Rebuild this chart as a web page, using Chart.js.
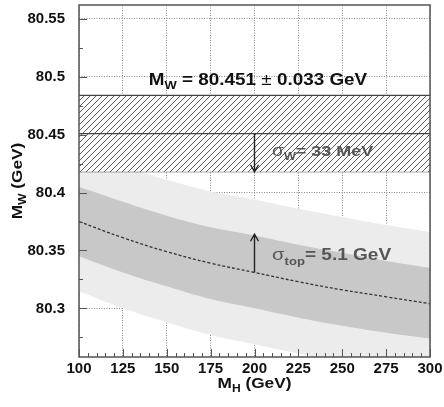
<!DOCTYPE html>
<html>
<head>
<meta charset="utf-8">
<script src="https://cdn.jsdelivr.net/npm/chart.js@4"></script>
<style>
    html, body { margin: 0; padding: 0; background: #fff; }
</style>
</head>
<body>
<canvas id="grafico" width="444" height="407"></canvas>
<script>
// valores
const massaHiggs = [100, 125, 150, 175, 200, 225, 250, 275, 300];
const centro     = [80.375, 80.361, 80.349, 80.339, 80.331, 80.323, 80.316, 80.310, 80.304];
const escuroSup  = [80.405, 80.392, 80.380, 80.370, 80.363, 80.355, 80.348, 80.341, 80.335];
const escuroInf  = [80.345, 80.331, 80.319, 80.308, 80.300, 80.292, 80.285, 80.279, 80.274];
const claroSup   = [80.436, 80.423, 80.411, 80.401, 80.394, 80.386, 80.379, 80.372, 80.366];
const claroInf   = [80.315, 80.300, 80.288, 80.277, 80.269, 80.261, 80.254, 80.248, 80.243];

const mwValor = 80.451;
const mwErro = 0.033;
const faixaX = [100, 300];

const ticksX = [100, 125, 150, 175, 200, 225, 250, 275, 300];
const ticksY = [80.3, 80.35, 80.4, 80.45, 80.5, 80.55];
const rotulosY = ["80.3", "80.35", "80.4", "80.45", "80.5", "80.55"];

const FONTE = "'Liberation Sans', Arial, sans-serif";

function pontos(xs, ys) {
    return xs.map((x, i) => ({ x: x, y: ys[i] }));
}

function criaHachura() {
    const c = document.createElement("canvas");
    c.width = 6; c.height = 6;
    const g = c.getContext("2d");
    g.fillStyle = "#fff";
    g.fillRect(0, 0, 6, 6);
    g.strokeStyle = "#4a4a4a";
    g.lineWidth = 0.9;
    g.beginPath();
    g.moveTo(-1, 7); g.lineTo(7, -1);
    g.moveTo(-1, 1); g.lineTo(1, -1);
    g.moveTo(5, 7); g.lineTo(7, 5);
    g.stroke();
    return g.createPattern(c, "repeat");
}

// escreve texto com subscritos; pecas = [texto, tamanho, peso, deslocY]
function escreve(ctx, x, y, pecas, cor, alinha, esticar) {
    ctx.save();
    ctx.fillStyle = cor;
    ctx.textBaseline = "alphabetic";
    ctx.textAlign = "left";
    let largura = 0;
    pecas.forEach(p => {
        ctx.font = `${p[2]} ${p[1]}px ${FONTE}`;
        largura += ctx.measureText(p[0]).width;
    });
    ctx.translate(x, y);
    ctx.scale(esticar, 1);
    let cx = alinha === "center" ? -largura / 2 : 0;
    pecas.forEach(p => {
        ctx.font = `${p[2]} ${p[1]}px ${FONTE}`;
        ctx.fillText(p[0], cx, p[3]);
        cx += ctx.measureText(p[0]).width;
    });
    ctx.restore();
}

function seta(ctx, x, y1, y2) {
    const dir = y2 > y1 ? 1 : -1;
    ctx.save();
    ctx.strokeStyle = "#222";
    ctx.lineWidth = 1.4;
    ctx.beginPath();
    ctx.moveTo(x, y1);
    ctx.lineTo(x, y2);
    ctx.moveTo(x - 4, y2 - dir * 7);
    ctx.lineTo(x, y2);
    ctx.lineTo(x + 4, y2 - dir * 7);
    ctx.stroke();
    ctx.restore();
}

// tira o espaço extra que o Chart.js reserva para os rótulos nas pontas
function semFolga(s) {
    s.paddingLeft = 0; s.paddingRight = 0;
    s.paddingTop = 0; s.paddingBottom = 0;
}

const extras = {
    id: "extras",
    afterDraw(chart) {
        const ctx = chart.ctx;
        const a = chart.chartArea;
        const sx = chart.scales.x;
        const sy = chart.scales.y;

        // moldura
        ctx.save();
        ctx.strokeStyle = "#555";
        ctx.lineWidth = 1.5;
        ctx.strokeRect(a.left, a.top, a.right - a.left, a.bottom - a.top);

        // marcas internas
        ctx.lineWidth = 1;
        ctx.beginPath();
        for (let v = 100; v <= 300; v += 5) {
            const px = Math.round(sx.getPixelForValue(v)) + 0.5;
            const len = v % 25 === 0 ? 8 : 4;
            ctx.moveTo(px, a.bottom);
            ctx.lineTo(px, a.bottom - len);
        }
        for (let k = 0; k <= 12; k++) {
            const v = 80.25 + k * 0.025;
            const py = sy.getPixelForValue(v);
            if (py < a.top || py > a.bottom) continue;
            const len = k % 2 === 0 ? 8 : 4;
            ctx.moveTo(a.left, Math.round(py) + 0.5);
            ctx.lineTo(a.left + len, Math.round(py) + 0.5);
        }
        ctx.stroke();
        ctx.restore();

        // títulos dos eixos
        escreve(ctx, (a.left + a.right) / 2, 388,
            [["M", 15, "bold", 0], ["H", 10.5, "bold", 4], [" (GeV)", 15, "bold", 0]],
            "#111", "center", 1.15);
        ctx.save();
        ctx.translate(22, 181);
        ctx.rotate(-Math.PI / 2);
        escreve(ctx, 0, 0,
            [["M", 15, "bold", 0], ["W", 10.5, "bold", 4], [" (GeV)", 15, "bold", 0]],
            "#111", "center", 1.15);
        ctx.restore();

        // anotação do valor medido
        escreve(ctx, sx.getPixelForValue(202), sy.getPixelForValue(80.493),
            [["M", 16, "bold", 0], ["W", 11, "bold", 4],
             [" = 80.451 ", 16, "bold", 0], ["±", 16, "normal", 0], [" 0.033 GeV", 16, "bold", 0]],
            "#111", "center", 1.18);

        // setas
        seta(ctx, sx.getPixelForValue(200), sy.getPixelForValue(mwValor), sy.getPixelForValue(mwValor - mwErro));
        seta(ctx, sx.getPixelForValue(200), sy.getPixelForValue(centro[4]), sy.getPixelForValue(80.364));

        escreve(ctx, sx.getPixelForValue(210), sy.getPixelForValue(80.432),
            [["σ", 16, "normal", 0], ["W", 10.5, "bold", 4], ["= 33 MeV", 15, "bold", 0]],
            "#555", "left", 1.2);
        escreve(ctx, sx.getPixelForValue(210), sy.getPixelForValue(80.342),
            [["σ", 17, "normal", 0], ["top", 11, "bold", 5], ["= 5.1 GeV", 16, "bold", 0]],
            "#555", "left", 1.19);
    }
};

const ctx = document.getElementById("grafico").getContext("2d");
const hachura = criaHachura();

const semPonto = { pointRadius: 0, pointHoverRadius: 0 };

window.grafico = new Chart(ctx, {
    type: "line",
    data: {
        datasets: [
            { data: pontos(massaHiggs, claroInf), borderWidth: 0, fill: false, order: 9, ...semPonto },
            { data: pontos(massaHiggs, claroSup), borderWidth: 0, fill: "-1", backgroundColor: "#ececec", order: 8, ...semPonto },
            { data: pontos(massaHiggs, escuroInf), borderWidth: 0, fill: false, order: 7, ...semPonto },
            { data: pontos(massaHiggs, escuroSup), borderWidth: 0, fill: "-1", backgroundColor: "#c8c8c8", order: 6, ...semPonto },
            { data: pontos(massaHiggs, centro), borderColor: "#333", borderWidth: 1.3, borderDash: [3, 2], fill: false, order: 5, ...semPonto },
            { data: pontos(faixaX, [mwValor - mwErro, mwValor - mwErro]), borderColor: "#444", borderWidth: 1.2, fill: false, order: 4, ...semPonto },
            { data: pontos(faixaX, [mwValor + mwErro, mwValor + mwErro]), borderColor: "#444", borderWidth: 1.2, fill: "-1", backgroundColor: hachura, order: 3, ...semPonto },
            { data: pontos(faixaX, [mwValor, mwValor]), borderColor: "#444", borderWidth: 1.2, fill: false, order: 2, ...semPonto }
        ]
    },
    options: {
        responsive: false,
        animation: false,
        tension: 0.4,
        layout: { padding: { top: 5, right: 14, left: 0, bottom: 0 } },
        plugins: { legend: { display: false }, tooltip: { enabled: false } },
        scales: {
            x: {
                type: "linear",
                min: 100,
                max: 300,
                z: 1,
                afterBuildTicks: s => { s.ticks = ticksX.map(v => ({ value: v })); },
                afterFit: s => { s.height = 50; semFolga(s); },
                grid: { color: "#8a8a8a", lineWidth: 1, drawTicks: false },
                border: { display: false, dash: [1, 1.5] },
                ticks: { padding: 3, color: "#111", font: { family: FONTE, size: 15, weight: "bold" } }
            },
            y: {
                min: 80.258,
                max: 80.562,
                z: 1,
                afterBuildTicks: s => { s.ticks = ticksY.map(v => ({ value: v })); },
                afterFit: s => { s.width = 79; semFolga(s); },
                grid: { color: "#8a8a8a", lineWidth: 1, drawTicks: false },
                border: { display: false, dash: [1, 1.5] },
                ticks: {
                    padding: 14,
                    color: "#111",
                    font: { family: FONTE, size: 15, weight: "bold" },
                    callback: (v, i) => rotulosY[i]
                }
            }
        }
    },
    plugins: [extras]
});
</script>
</body>
</html>
